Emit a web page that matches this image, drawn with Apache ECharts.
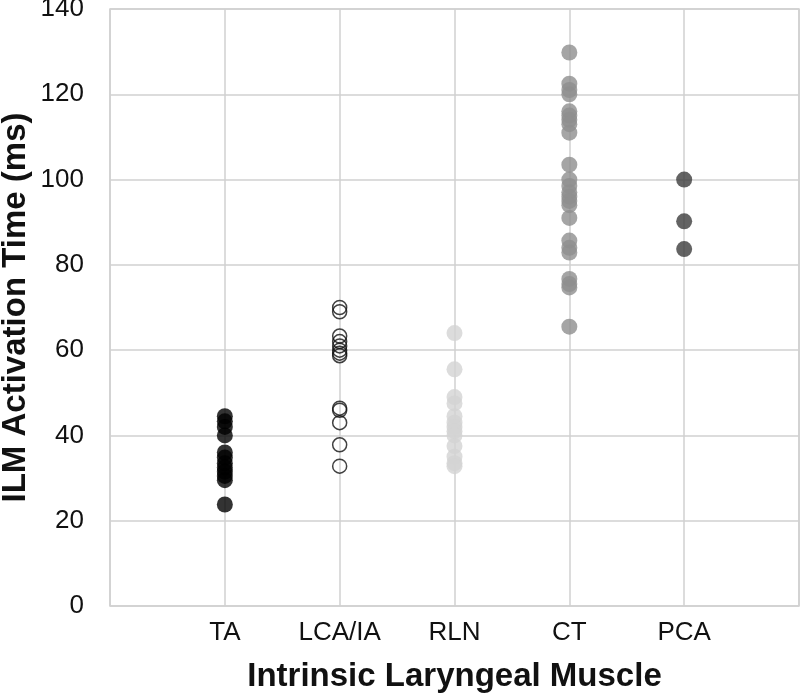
<!DOCTYPE html>
<html>
<head>
<meta charset="utf-8">
<script src="https://cdn.jsdelivr.net/npm/echarts@6/dist/echarts.min.js"></script>
<style>html,body{margin:0;padding:0;background:#fff}#c{width:800px;height:698px}</style>
</head>
<body>
<div id="c"></div>
<script>
const categories = ['TA', 'LCA/IA', 'RLN', 'CT', 'PCA'];
const yTicks = [0, 20, 40, 60, 80, 100, 120, 140];
const taValues = [44.5, 43.3, 42, 40, 36, 34.8, 33.5, 32.5, 31.5, 30.5, 29.5, 23.8];
const lcaValues = [70, 69, 63.3, 62, 61, 60, 59.3, 58.7, 46.4, 45.9, 43, 37.8, 32.8];
const rlnValues = [64, 55.5, 49, 47.5, 44.5, 43, 42, 41, 40, 37.5, 35, 33.5, 32.8];
const ctValues = [129.8, 122.5, 121, 120, 116, 115, 114, 113, 111, 103.5, 100, 98.5, 97, 96, 95, 94, 91, 85.7, 84, 82.9, 76.7, 75.5, 74.7, 65.5];
const pcaValues = [100, 90.2, 83.7];

const seriesValues = [taValues, lcaValues, rlnValues, ctValues, pcaValues];
const styles = [
  {color: '#000000'},
  {color: 'rgba(255,255,255,0)', borderColor: '#111111', borderWidth: 1.5},
  {color: '#d3d3d3'},
  {color: '#8e8e8e'},
  {color: '#3c3c3c'}
];

const series = seriesValues.map((vals, i) => ({
  name: categories[i],
  type: 'scatter',
  symbol: 'circle',
  symbolSize: i === 1 ? 14 : 16,
  itemStyle: styles[i],
  data: vals.map(v => [i + 1, v]),
  z: 3
}));

const chart = echarts.init(document.getElementById('c'), null, {renderer: 'canvas'});
chart.setOption({
  animation: false,
  backgroundColor: '#ffffff',
  grid: {left: 110, right: 1, top: 9, bottom: 92, containLabel: false, outerBoundsMode: 'none',
         show: true, borderColor: '#d0d0d0', borderWidth: 1.5},
  xAxis: {
    type: 'value', min: 0, max: 6, interval: 1,
    name: 'Intrinsic Laryngeal Muscle', nameLocation: 'middle', nameGap: 54, nameMoveOverlap: false,
    nameTextStyle: {fontFamily: 'Liberation Sans', fontWeight: 'bold', fontSize: 33, color: '#111'},
    axisLine: {show: false}, axisTick: {show: false},
    splitLine: {show: true, lineStyle: {color: '#d0d0d0', width: 1.5}},
    axisLabel: {
      fontFamily: 'Liberation Sans', fontSize: 26, color: '#111', margin: 14,
      formatter: v => (v >= 1 && v <= categories.length) ? categories[v - 1] : ''
    }
  },
  yAxis: {
    type: 'value', min: 0, max: 140, interval: 20,
    name: 'ILM Activation Time (ms)', nameLocation: 'middle', nameGap: 78, nameMoveOverlap: false,
    nameTextStyle: {fontFamily: 'Liberation Sans', fontWeight: 'bold', fontSize: 33, color: '#111'},
    axisLine: {show: false}, axisTick: {show: false},
    splitLine: {show: true, lineStyle: {color: '#d0d0d0', width: 1.5}},
    axisLabel: {
      fontFamily: 'Liberation Sans', fontSize: 26, color: '#111', margin: 26,
      formatter: v => yTicks.includes(v) ? String(v) : ''
    }
  },
  series: series
});
</script>
</body>
</html>
